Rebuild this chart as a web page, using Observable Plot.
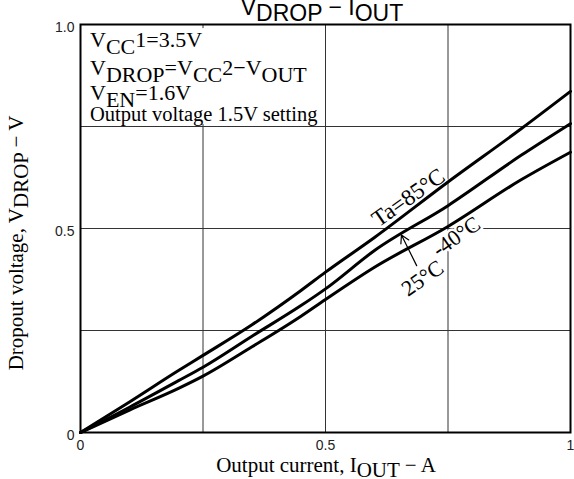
<!DOCTYPE html>
<html>
<head>
<meta charset="utf-8">
<script src="https://cdn.jsdelivr.net/npm/d3@7"></script>
<script src="https://cdn.jsdelivr.net/npm/@observablehq/plot@0.6"></script>
<style>
  html, body { margin: 0; padding: 0; background: white; }
  #chart { width: 574px; height: 479px; }
</style>
</head>
<body>
<div id="chart"></div>
<script>
// ---- data ----
const current = [0, 0.1, 0.2, 0.25, 0.35, 0.45, 0.5, 0.6, 0.75, 0.9, 1];
const drop85 = [0, 0.075, 0.152, 0.189, 0.264, 0.348, 0.393, 0.478, 0.614, 0.745, 0.836];
const drop25 = [0, 0.062, 0.127, 0.160, 0.236, 0.311, 0.352, 0.446, 0.556, 0.680, 0.757];
const dropM40 = [0, 0.055, 0.108, 0.138, 0.210, 0.285, 0.326, 0.405, 0.505, 0.620, 0.687];
const seriesNames = ["Ta=85°C", "25°C", "-40°C"];

const xTicks = [0, 0.5, 1];
const xTickLabels = ["0", "0.5", "1"];
const yTicks = [0, 0.5, 1];
const yTickLabels = ["0", "0.5", "1.0"];
const gridValues = [0.25, 0.5, 0.75];

const labelText = ["Ta=85°C", "25°C", "-40°C"];
const labelX = [0.669, 0.698, 0.767];
const labelY = [0.576, 0.378, 0.480];
const labelSize = [23, 22, 22];

const arrowFrom = [0.686, 0.409];
const arrowTo = [0.655, 0.484];

const titleParts = [["V", 0], ["DROP", 1], [" − I", 0], ["OUT", 1]];
const xLabelParts = [["Output current, I", 0], ["OUT", 1], [" − A", 0]];
const yLabelParts = [["Dropout voltage, V", 0], ["DROP", 1], [" − V", 0]];
const legendLines = [
  [["V", 0], ["CC", 1], ["1=3.5V", 0]],
  [["V", 0], ["DROP", 1], ["=V", 0], ["CC", 1], ["2−V", 0], ["OUT", 1]],
  [["V", 0], ["EN", 1], ["=1.6V", 0]],
  [["Output voltage 1.5V setting", 0]]
];

// ---- build table ----
const allSeries = [drop85, drop25, dropM40];
const rows = [];
allSeries.forEach((vals, s) => {
  current.forEach((c, i) => rows.push({series: seriesNames[s], x: c, y: vals[i]}));
});
const labels = labelText.map((t, i) => ({t, x: labelX[i], y: labelY[i], s: labelSize[i]}));
const xFmt = new Map(xTicks.map((d, i) => [d, xTickLabels[i]]));
const yFmt = new Map(yTicks.map((d, i) => [d, yTickLabels[i]]));

const serif = "'Liberation Serif', 'Times New Roman', serif";
const sans = "'Liberation Sans', Arial, sans-serif";

const chart = Plot.plot({
  width: 574,
  height: 479,
  marginTop: 24,
  marginRight: 4,
  marginBottom: 47,
  marginLeft: 80,
  style: {fontFamily: sans, fontSize: "14px", background: "white", color: "#222"},
  x: {domain: [0, 1]},
  y: {domain: [0, 1]},
  marks: [
    Plot.gridX(gridValues, {stroke: "#333", strokeOpacity: 1, strokeWidth: 1}),
    Plot.gridY(gridValues, {stroke: "#333", strokeOpacity: 1, strokeWidth: 1}),
    Plot.rect([0], {x1: 0.004, x2: 0.494, y1: 0.755, y2: 0.99, fill: "white"}),
    Plot.text(labels.filter(d => d.s === 23), {x: "x", y: "y", text: "t", rotate: -35, fontFamily: serif, fontSize: 23, fill: "black",
      stroke: "white", strokeWidth: 5, paintOrder: "stroke"}),
    Plot.text(labels.filter(d => d.s === 22), {x: "x", y: "y", text: "t", rotate: -35, fontFamily: serif, fontSize: 22, fill: "black",
      stroke: "white", strokeWidth: 5, paintOrder: "stroke"}),
    Plot.line(rows, {x: "x", y: "y", z: "series", stroke: "black", strokeWidth: 3, curve: "monotone-x"}),
    Plot.arrow([0], {x1: arrowFrom[0], y1: arrowFrom[1], x2: arrowTo[0], y2: arrowTo[1],
      stroke: "black", strokeWidth: 1.2, headLength: 11}),
    Plot.frame({stroke: "black", strokeWidth: 2}),
    Plot.axisX(xTicks, {tickSize: 0, tickPadding: 8, tickFormat: d => xFmt.get(d), label: null, fontSize: 14}),
    Plot.axisY(yTicks, {tickSize: 0, tickPadding: 6, tickFormat: d => yFmt.get(d), label: null, fontSize: 14, dy: 3})
  ]
});
document.getElementById("chart").appendChild(chart);

// ---- rich text (subscripts) ----
const svg = d3.select(chart);
function rich(parts, x, y, size, family, anchor, transform, shift) {
  const t = svg.append("text")
    .attr("font-family", family)
    .attr("font-size", size)
    .attr("fill", "black")
    .attr("text-anchor", anchor);
  if (transform) t.attr("transform", transform); else t.attr("x", x).attr("y", y);
  let level = 0;
  parts.forEach(([s, sub]) => {
    const ts = t.append("tspan").text(s);
    const d = (sub - level) * shift;
    if (d !== 0) ts.attr("dy", d);
    level = sub;
  });
  return t;
}
rich(titleParts, 322, 15, 23, sans, "middle", null, 6);
rich(xLabelParts, 326, 472, 21, serif, "middle", null, 5);
rich(yLabelParts, 0, 0, 21, serif, "middle", "translate(23,243) rotate(-90)", 5);
const legendBase = [47, 75, 100, 121];
legendLines.forEach((line, i) => {
  const size = i === 3 ? 20.5 : 22;
  rich(line, 90, legendBase[i], size, serif, "start", null, 7);
});
</script>
</body>
</html>
